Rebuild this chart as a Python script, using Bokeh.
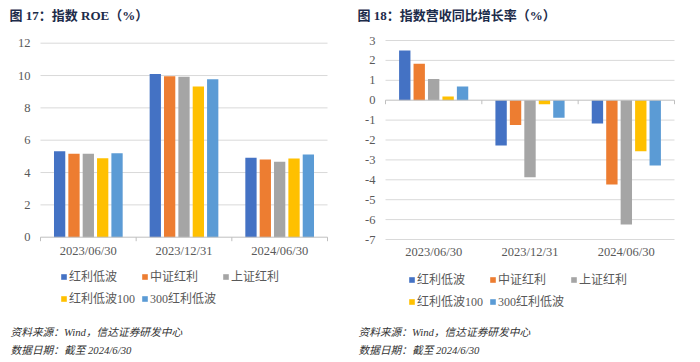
from bokeh.plotting import figure
from bokeh.models import Range1d, Legend, LegendItem, Label, ColumnDataSource
from bokeh.core.properties import value
from bokeh.layouts import row
from bokeh.embed import file_html
from bokeh.resources import INLINE

categories = ["2023/06/30", "2023/12/31", "2024/06/30"]
series_names = ["红利低波", "中证红利", "上证红利", "红利低波100", "300红利低波"]
colors = ["#4472C4", "#ED7D31", "#A5A5A5", "#FFC000", "#5B9BD5"]

roe_hongli_dibo = [5.32, 10.10, 4.91]
roe_zhongzheng = [5.16, 9.96, 4.80]
roe_shangzheng = [5.16, 9.92, 4.66]
roe_dibo100 = [4.89, 9.32, 4.87]
roe_300dibo = [5.20, 9.77, 5.11]

rev_hongli_dibo = [2.50, -2.28, -1.17]
rev_zhongzheng = [1.83, -1.24, -4.24]
rev_shangzheng = [1.07, -3.87, -6.25]
rev_dibo100 = [0.19, -0.20, -2.56]
rev_300dibo = [0.69, -0.88, -3.28]

roe_ticks = [0, 2, 4, 6, 8, 10, 12]
rev_ticks = [3, 2, 1, 0, -1, -2, -3, -4, -5, -6, -7]

title_roe = "图 17：指数 ROE（%）"
title_rev = "图 18：指数营收同比增长率（%）"
source_text = "资料来源：Wind，信达证券研发中心"
date_text = "数据日期：截至 2024/6/30"

SERIF = "'Liberation Serif', 'Noto Sans CJK SC'"
TITLE_COLOR = "#1C2B4A"
TEXT_COLOR = "#595959"
GRID_COLOR = "#D9D9D9"
AXIS_COLOR = "#BFBFBF"

W, H = 350, 362
LEGEND_COLS = 3


def make_chart(series, yticks, box, title, legend_xy, text_x, label_gap):
    # box: plot area in figure pixels (left, right, top, bottom)
    left, right, top, bottom = box
    ncat = len(categories)
    ymin, ymax = min(yticks), max(yticks)
    xppu = (right - left) / ncat
    yppu = (bottom - top) / (ymax - ymin)
    x_range = Range1d(-left / xppu, ncat + (W - right) / xppu)
    y_range = Range1d(ymin - (H - bottom) / yppu, ymax + top / yppu)

    p = figure(width=W, height=H, output_backend="svg", toolbar_location=None,
               x_range=x_range, y_range=y_range, x_axis_type=None, y_axis_type=None,
               min_border=0, outline_line_color=None)
    p.grid.visible = False
    p.background_fill_color = "white"
    p.border_fill_color = "white"

    # gridlines
    grid = [t for t in yticks if t != 0]
    p.segment(x0=[0] * len(grid), x1=[ncat] * len(grid), y0=grid, y1=grid,
              line_color=GRID_COLOR, line_width=1)

    # bars
    n = len(series)
    slot = 0.15
    bw = 0.118
    renderers = []
    for i, vals in enumerate(series):
        xs = [k + 0.5 + (i - (n - 1) / 2) * slot for k in range(ncat)]
        src = ColumnDataSource(dict(x=xs, top=vals))
        r = p.vbar(x="x", top="top", bottom=0, width=bw, source=src,
                   fill_color=colors[i], line_color=None)
        renderers.append(r)

    # category axis line at 0 with boundary ticks
    bounds = list(range(ncat + 1))
    p.segment(x0=[0], x1=[ncat], y0=[0], y1=[0], line_color=AXIS_COLOR, line_width=1)
    tick_len = 4 / yppu
    p.segment(x0=bounds, x1=bounds, y0=[0] * len(bounds), y1=[-tick_len] * len(bounds),
              line_color=AXIS_COLOR, line_width=1)

    # y tick labels
    p.text(x=[0] * len(yticks), y=yticks, text=[str(t) for t in yticks],
           x_offset=-10, text_align="right", text_baseline="middle",
           text_font=value(SERIF), text_font_size="12.5px", text_color=TEXT_COLOR)

    # category labels
    centers = [k + 0.5 for k in range(ncat)]
    p.text(x=centers, y=[ymin] * ncat, text=categories, y_offset=label_gap,
           text_align="center", text_baseline="middle",
           text_font=value(SERIF), text_font_size="12.5px", text_color=TEXT_COLOR)

    # legend: row-major order for a column-filled grid with 3 columns
    items = [LegendItem(label=name, renderers=[r]) for name, r in zip(series_names, renderers)]
    nrows = -(-len(items) // LEGEND_COLS)
    ordered = []
    for c in range(LEGEND_COLS):
        for rr in range(nrows):
            idx = rr * LEGEND_COLS + c
            if idx < len(items):
                ordered.append(items[idx])
    legend = Legend(items=ordered, location=legend_xy, ncols=LEGEND_COLS, spacing=4,
                    glyph_width=7, glyph_height=7, label_standoff=2, label_height=12,
                    label_width=68,
                    label_text_font=SERIF, label_text_font_size="12px",
                    label_text_color=TEXT_COLOR, padding=0, margin=0,
                    border_line_color=None, background_fill_alpha=0)
    p.add_layout(legend, "center")

    p.add_layout(Label(x=text_x, y=H - 15, x_units="screen", y_units="screen",
                       text=title, text_font=SERIF, text_font_size="13px",
                       text_font_style="bold", text_color=TITLE_COLOR,
                       text_baseline="middle"))
    p.add_layout(Label(x=text_x + 1, y=H - 331, x_units="screen", y_units="screen",
                       text=source_text, text_font=SERIF,
                       text_font_size="10.7px", text_font_style="italic",
                       text_color="#333333", text_baseline="middle"))
    p.add_layout(Label(x=text_x + 1, y=H - 349, x_units="screen", y_units="screen",
                       text=date_text, text_font=SERIF,
                       text_font_size="10.7px", text_font_style="italic",
                       text_color="#333333", text_baseline="middle"))
    return p


p1 = make_chart([roe_hongli_dibo, roe_zhongzheng, roe_shangzheng, roe_dibo100, roe_300dibo],
                roe_ticks, (40, 327, 42.7, 236.7), title_roe, (60, 55), 9, 14)
p2 = make_chart([rev_hongli_dibo, rev_zhongzheng, rev_shangzheng, rev_dibo100, rev_300dibo],
                rev_ticks, (35, 324, 40, 239), title_rev, (58, 52), 7, 12)

layout = row(p1, p2)
open("out.html", "w").write(file_html(layout, INLINE))
